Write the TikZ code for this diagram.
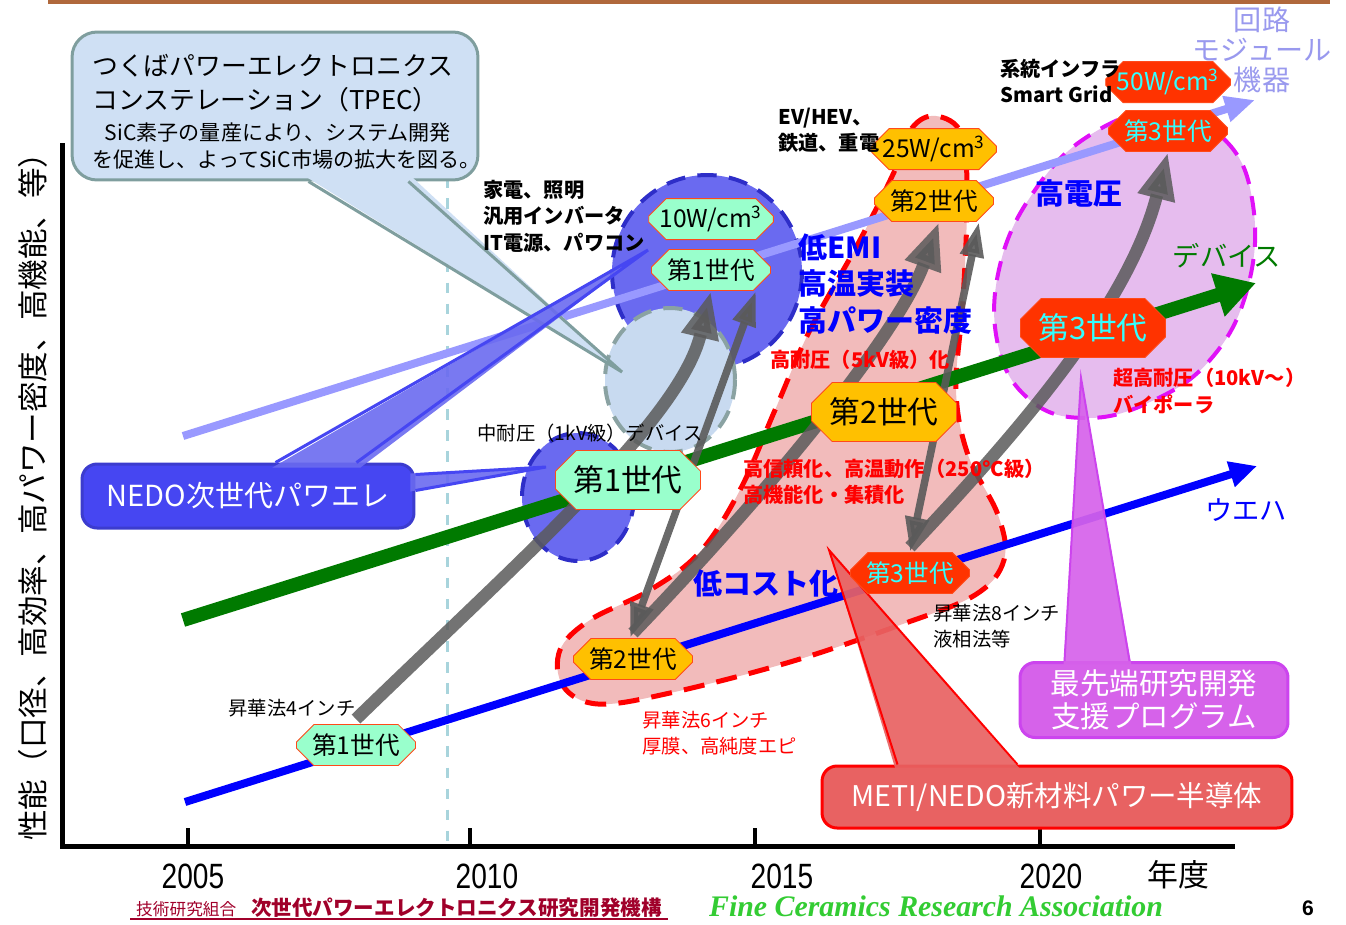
\documentclass[tikz,border=0pt]{standalone}
\usepackage{fontspec}
\setmainfont{Noto Sans CJK JP}
\newfontfamily\yearfont{Liberation Sans}[FakeStretch=0.8]
\newfontfamily\sansfont{Liberation Sans}
\newfontfamily\serifit{Liberation Serif}
\usetikzlibrary{arrows.meta, positioning, shapes.misc}
\pgfdeclarelayer{bg}
\pgfdeclarelayer{mid}
\pgfsetlayers{bg,mid,main}

\definecolor{mintfill}{HTML}{99FFCC}
\definecolor{goldfill}{HTML}{FFC000}
\definecolor{redfill}{HTML}{FF3300}
\definecolor{cyantext}{HTML}{33FFFF}
\definecolor{octline}{HTML}{FF4A1A}
\definecolor{pinkfill}{HTML}{F2BBBB}
\definecolor{purpfill}{HTML}{E6BCEE}
\definecolor{magline}{HTML}{E010F8}
\definecolor{nedoblue}{HTML}{4646F2}
\definecolor{circblue}{HTML}{6A6AF0}
\definecolor{circline}{HTML}{2E2EC8}
\definecolor{palefill}{HTML}{C8DAF0}
\definecolor{paleline}{HTML}{8AA2A2}
\definecolor{tpecfill}{HTML}{CFE0F4}
\definecolor{tpecline}{HTML}{7F9E9E}
\definecolor{lavline}{HTML}{9999FF}
\definecolor{modtext}{HTML}{9999EE}
\definecolor{devgreen}{HTML}{007A00}
\definecolor{progfill}{HTML}{D662EA}
\definecolor{progline}{HTML}{CC44EE}
\definecolor{metifill}{HTML}{E86262}
\definecolor{grayarr}{HTML}{5A5A5A}
\definecolor{vline}{HTML}{A8D4DC}
\definecolor{footred}{HTML}{A0002A}
\definecolor{fcragreen}{HTML}{33CC33}
\definecolor{topline}{HTML}{B0683C}

\tikzset{
  oct/.style={chamfered rectangle, chamfered rectangle xsep=0.22cm, draw=octline,
    line width=0.5pt, inner sep=0pt, minimum width=2.38cm, minimum height=0.82cm,
    font=\fontsize{14}{14}\selectfont},
  octbig/.style={oct, chamfered rectangle xsep=0.34cm, minimum width=2.9cm,
    minimum height=1.18cm, font=\fontsize{17.5}{17.5}\selectfont},
  genA/.style={fill=mintfill},
  genB/.style={fill=goldfill},
  genC/.style={fill=redfill, text=cyantext},
  blob/.style={line width=0.08cm, dash pattern=on 11pt off 7pt},
  bigarr/.style={grayarr, opacity=0.85, line width=0.25cm,
    -{Triangle[length=0.95cm, width=0.7cm]}},
  duoarr/.style={grayarr, opacity=0.9, line width=0.15cm,
    {Triangle[length=0.7cm, width=0.45cm]}-{Triangle[length=0.7cm, width=0.45cm]}},
  boxcall/.style={rounded corners=0.3cm, line width=0.06cm, inner sep=0pt},
  txt/.style={font=\fontsize{11}{14.8}\selectfont, align=left, inner sep=0pt},
  txtb/.style={font=\fontsize{11.5}{15}\selectfont\bfseries, align=left, inner sep=0pt},
  bigb/.style={font=\fontsize{16.5}{20.7}\selectfont\bfseries, align=left, inner sep=0pt},
}

\begin{document}
\begin{tikzpicture}[x=0.02cm, y=-0.02cm]
\useasboundingbox (0,0) rectangle (1346,924);

% top rule and axes
\draw[topline, line width=0.08cm] (48,2) -- (1330,2);
\draw[line width=0.1cm] (62,143) -- (62,846) -- (1235,846);
\foreach \tx/\lx/\yr in {188/193/2005, 470/487/2010, 755/782/2015, 1040/1051/2020}{
  \draw[line width=0.08cm] (\tx,828) -- (\tx,846);
  \node[font=\yearfont\fontsize{20}{20}\selectfont] (yr\yr) at (\lx,876) {\yr};
}
\node[font=\fontsize{17.6}{18}\selectfont] (nendo) at (1178,875) {年度};
\node[font=\fontsize{17.4}{18}\selectfont, rotate=90] (yaxis) at (33,489)
  {性能（口径、高効率、高パワー密度、高機能、等）};

% callout boxes
\node[boxcall, rounded corners=0.5cm, fill=tpecfill, draw=tpecline,
  minimum width=8.12cm, minimum height=2.96cm] (tpec) at (275,106) {};
\node[boxcall, fill=nedoblue, draw=nedoblue!85!black, text=white,
  minimum width=6.64cm, minimum height=1.28cm, font=\fontsize{16.5}{17}\selectfont]
  (nedo) at (248,496) {NEDO次世代パワエレ};
\node[boxcall, fill=progfill, draw=progline, text=white, align=center,
  minimum width=5.36cm, minimum height=1.5cm, font=\fontsize{16.8}{18.7}\selectfont]
  (prog) at (1154,700) {最先端研究開発\\支援プログラム};
\node[boxcall, fill=metifill, draw=red, text=white,
  minimum width=9.4cm, minimum height=1.24cm, font=\fontsize{16.2}{17}\selectfont]
  (meti) at (1057,797) {METI/NEDO新材料パワー半導体};

% callout tails
\coordinate (tpectip) at (622,372);
\coordinate (nedotipA) at (648,250);
\coordinate (nedotipB) at (546,467);
\coordinate (progtip) at (1081,378);
\coordinate (metitip) at (829,550);
\fill[tpecfill] ([xshift=4.7cm,yshift=0.1cm]tpec.south west) -- (tpectip)
  -- ([xshift=6.82cm,yshift=0.1cm]tpec.south west) -- cycle;
\draw[tpecline, line width=0.06cm] ([xshift=4.76cm]tpec.south west) -- (tpectip)
  -- ([xshift=6.76cm]tpec.south west);
\fill[circblue, opacity=0.9] ([xshift=3.84cm,yshift=-0.1cm]nedo.north west) -- (nedotipA)
  -- ([xshift=5.6cm,yshift=-0.1cm]nedo.north west) -- cycle;
\draw[nedoblue, line width=0.06cm] ([xshift=3.9cm]nedo.north west) -- (nedotipA)
  -- ([xshift=5.52cm]nedo.north west);
\fill[circblue, opacity=0.9] ([xshift=-0.1cm,yshift=-0.22cm]nedo.north east) -- (nedotipB)
  -- ([xshift=-0.1cm,yshift=-0.58cm]nedo.north east) -- cycle;
\draw[nedoblue, line width=0.06cm] ([yshift=-0.24cm]nedo.north east) -- (nedotipB)
  -- ([yshift=-0.56cm]nedo.north east);
\fill[progfill, opacity=0.92] ([xshift=0.9cm,yshift=-0.1cm]prog.north west) -- (progtip)
  -- ([xshift=2.26cm,yshift=-0.1cm]prog.north west) -- cycle;
\draw[progline, line width=0.04cm] ([xshift=0.92cm]prog.north west) -- (progtip)
  -- ([xshift=2.22cm]prog.north west);
\fill[metifill, opacity=0.92] ([xshift=1.5cm,yshift=-0.1cm]meti.north west) -- (metitip)
  -- ([xshift=4.0cm,yshift=-0.1cm]meti.north west) -- cycle;
\draw[red, line width=0.04cm] ([xshift=1.54cm]meti.north west) -- (metitip)
  -- ([xshift=3.94cm]meti.north west);

% generations: wafer, device, module
\node[oct, genA] (w1) at (356,745) {第1世代};
\node[oct, genB] (w2) at (633,659) {第2世代};
\node[oct, genC] (w3) at (910,573) {第3世代};
\node[octbig, genA] (d1) at (628,480) {第1世代};
\node[octbig, genB] (d2) at (884,412) {第2世代};
\node[octbig, genC] (d3) at (1093,328) {第3世代};
\node[oct, genA] (m1) at (711,270) {第1世代};
\node[oct, genB] (m2) at (934,201) {第2世代};
\node[oct, genC] (m3) at (1168,131) {第3世代};
\node[oct, genA, above=0.18cm of m1] (p1) {10W/cm\textsuperscript{3}};
\node[oct, genB, above=0.2cm of m2] (p2) {25W/cm\textsuperscript{3}};
\node[oct, genC, above=0.14cm of m3] (p3) {50W/cm\textsuperscript{3}};

% labels
\node[txt] (subl4) at (292,708) {昇華法4インチ};
\node[txt] (midv) at (590,433) {中耐圧（1kV級）デバイス};
\node[txtb, anchor=west] (appA) at (483,216) {家電、照明\\汎用インバータ\\IT電源、パワコン};
\node[txtb, anchor=west] (appB) at (778,130) {EV/HEV、\\鉄道、重電};
\node[txtb, anchor=west] (appC) at (1000,81) {系統インフラ\\Smart Grid};
\node[bigb, text=blue, anchor=west] (emi) at (798,284) {低EMI\\高温実装\\高パワー密度};
\node[bigb, text=blue] (hv) at (1079,193) {高電圧};
\node[txtb, text=red] (kv5) at (860,360) {高耐圧（5kV級）化};
\node[txtb, text=red, anchor=west] (rel) at (743,482) {高信頼化、高温動作（250°C級）\\高機能化・集積化};
\node[bigb, text=blue] (cost) at (766,584) {低コスト化};
\node[txtb, text=red, anchor=west] (kv10) at (1113,391) {超高耐圧（10kV～）\\バイポーラ};
\node[txt, anchor=west] (subl8) at (933,626) {昇華法8インチ\\液相法等};
\node[txt, text=red, anchor=west] (subl6) at (642,733) {昇華法6インチ\\厚膜、高純度エピ};
\node[font=\fontsize{15.5}{16}\selectfont, text=devgreen] (devlbl) at (1227,256) {デバイス};
\node[font=\fontsize{15.5}{16}\selectfont, text=blue] (waflbl) at (1246,510) {ウエハ};
\node[font=\fontsize{16}{17}\selectfont, text=modtext, align=center] (modlbl) at (1262,50)
  {回路\\モジュール\\機器};
\node[anchor=west, font=\fontsize{14.7}{19.3}\selectfont, align=left] (tpecA) at (86,83)
  {つくばパワーエレクトロニクス\\コンステレーション（TPEC）};
\node[anchor=west, font=\fontsize{12}{15.9}\selectfont, align=left] (tpecB) at (86,146)
  {\hspace{0.6em}SiC素子の量産により、システム開発\\を促進し、よってSiC市場の拡大を図る。};

% footer
\node[anchor=base west, text=footred, font=\fontsize{9.5}{10}\selectfont] (kumiai) at (130,915) {技術研究組合};
\node[anchor=base west, text=footred, font=\fontsize{11.7}{12}\selectfont\bfseries] (kikou) at (245,915)
  {次世代パワーエレクトロニクス研究開発機構};
\draw[footred, line width=0.04cm] ([yshift=-2pt]kumiai.base west) -- ([yshift=-2pt]kikou.base east);
\node[font=\serifit\fontsize{17}{17}\selectfont\bfseries\itshape, text=fcragreen] (fcra) at (936,906)
  {Fine Ceramics Research Association};
\node[font=\sansfont\fontsize{12}{12}\selectfont\bfseries] (pageno) at (1308,908) {6};

% regions
\begin{pgfonlayer}{bg}
\draw[vline, line width=0.06cm, dash pattern=on 6pt off 6pt] (447,135) -- (447,848);
\filldraw[fill=pinkfill, draw=red, line width=0.1cm, dash pattern=on 12pt off 7pt]
  plot[smooth cycle, tension=0.6] coordinates {(936,116) (962,135) (967,200) (963,300)
  (956,390) (968,455) (998,515) (1004,560) (975,595) (900,625) (790,662) (670,693)
  (598,704) (563,686) (560,650) (590,620) (650,590) (700,552) (740,490) (775,410)
  (810,330) (860,240) (895,170) (912,128)};
\filldraw[fill=purpfill, draw=magline, blob]
  plot[smooth cycle, tension=0.7] coordinates {(1160,112) (1225,140) (1253,205) (1247,290)
  (1210,360) (1150,402) (1085,418) (1030,400) (998,345) (1000,265) (1035,190) (1090,135)};
\filldraw[fill=circblue, draw=circline, blob] (707,272) ellipse [x radius=95, y radius=97];
\filldraw[fill=palefill, draw=paleline, blob] (670,380) ellipse [x radius=65, y radius=72];
\filldraw[fill=circblue, draw=circline, blob] (578,497) ellipse [x radius=56, y radius=64];
\end{pgfonlayer}

% trend lines and progress arrows
\begin{pgfonlayer}{mid}
\coordinate (lavstart) at (183,436);
\coordinate (lavend) at (1255,100);
\coordinate (devstart) at (183,620);
\coordinate (devend) at (1256,283);
\coordinate (wafstart) at (185,802);
\coordinate (wafend) at (1257,466);
\draw[lavline, line width=0.16cm, -{Triangle[length=0.6cm, width=0.5cm]}] (lavstart) -- (lavend);
\draw[devgreen, line width=0.28cm, -{Triangle[length=0.8cm, width=0.85cm]}] (devstart) -- (devend);
\draw[blue, line width=0.16cm, -{Triangle[length=0.55cm, width=0.5cm]}] (wafstart) -- (wafend);
\draw[bigarr] ([yshift=0.1cm]w1.north) .. controls (520,560) and (680,420) .. (m1.south);
\draw[bigarr] ([yshift=0.1cm]w2.north) .. controls (780,480) and (900,330) .. ([xshift=0.1cm]m2.south);
\draw[bigarr] ([yshift=0.1cm]w3.north) .. controls (1030,420) and (1130,300) .. (m3.south);
\draw[duoarr] ([xshift=-0.06cm]w2.north) -- ([xshift=0.9cm]m1.south);
\draw[duoarr] (w3.north) -- ([xshift=0.9cm]m2.south);
\end{pgfonlayer}
\end{tikzpicture}
\end{document}
